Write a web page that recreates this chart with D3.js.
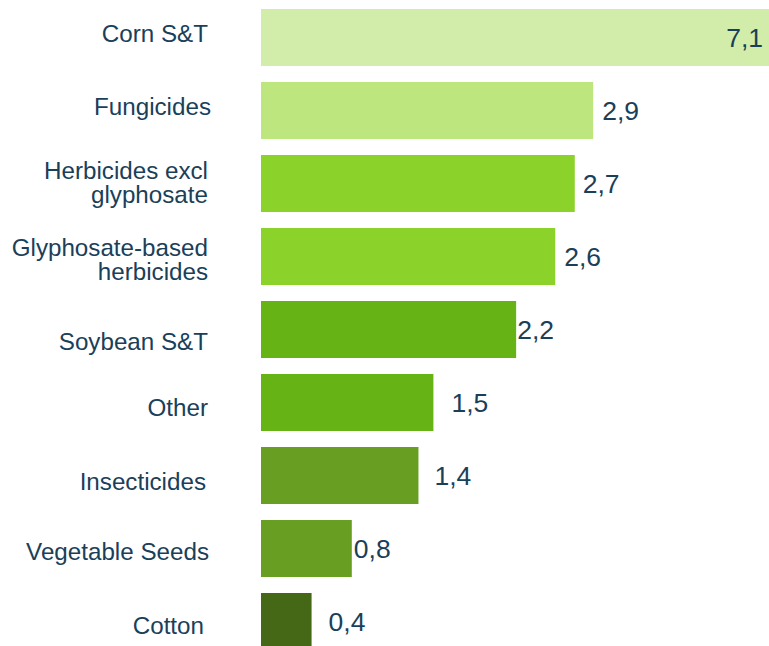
<!DOCTYPE html>
<html>
<head>
<meta charset="utf-8">
<script src="https://cdn.jsdelivr.net/npm/d3@7"></script>
<style>
    body { margin: 0; background: #fff; }
    text { font-family: "Liberation Sans", Arial, sans-serif; fill: #1a4059; }
</style>
</head>
<body>
<svg id="chart" width="769" height="646"></svg>
<script>
// categories, top to bottom (multi-line labels split on "|")
var categories = [
    'Corn S&T',
    'Fungicides',
    'Herbicides excl|glyphosate',
    'Glyphosate-based|herbicides',
    'Soybean S&T',
    'Other',
    'Insecticides',
    'Vegetable Seeds',
    'Cotton'
];
// bar values (labels show them rounded)
var values = [7.1, 2.89, 2.73, 2.56, 2.22, 1.50, 1.37, 0.79, 0.44];
var barColors = ['#d2edaa', '#bde67f', '#8bd32a', '#8bd32a', '#66b316',
    '#66b316', '#689e21', '#689e21', '#456816'];
// small hand nudges of the text, as in the original slide
var catNudge = [-4, -4, -1, 3, 12, 5, 6, 3, 4];
var catShift = [0, 3, 0, 0, 0, 0, -2, 1, -4];
var valNudge = [0, 9, 8, 9, 1, 18, 16, 2, 17];

var width = 769, height = 646;
var svg = d3.select('#chart');

var x = d3.scaleLinear()
    .domain([0, 4.42])
    .range([261, width]);

// step 73px, bar 57px
var y = d3.scaleBand()
    .domain(categories)
    .range([9, 9 + 73 * categories.length - 16])
    .paddingInner(16 / 73)
    .paddingOuter(0);

svg.append('clipPath')
    .attr('id', 'plotClip')
    .append('rect')
    .attr('x', 0)
    .attr('y', 0)
    .attr('width', width)
    .attr('height', height);

var rows = svg.selectAll('g.row')
    .data(categories)
    .enter()
    .append('g')
    .classed('row', true);

rows.append('rect')
    .attr('clip-path', 'url(#plotClip)')
    .attr('x', x(0))
    .attr('y', function (d) { return y(d); })
    .attr('width', function (d, i) { return x(values[i]) - x(0); })
    .attr('height', y.bandwidth())
    .attr('fill', function (d, i) { return barColors[i]; });

// category labels
var catText = rows.append('text')
    .attr('text-anchor', 'end')
    .attr('font-size', 24.2)
    .attr('transform', function (d, i) {
        var lines = d.split('|').length;
        var cy = y(d) + y.bandwidth() / 2 + catNudge[i];
        return 'translate(' + (208 + catShift[i]) + ',' + (cy - (lines - 1) * 12.2) + ')';
    });

catText.selectAll('tspan')
    .data(function (d) { return d.split('|'); })
    .enter()
    .append('tspan')
    .attr('x', 0)
    .attr('dy', function (d, i) { return i === 0 ? '0.35em' : '24.4px'; })
    .text(function (d) { return d; });

// value labels
function fmt(v) {
    return d3.format('.1f')(v).replace('.', ',');
}

rows.append('text')
    .attr('font-size', 26.5)
    .attr('dy', '0.35em')
    .attr('y', function (d) { return y(d) + y.bandwidth() / 2; })
    .attr('x', function (d, i) {
        var end = Math.min(x(values[i]), width);
        return end >= width ? width - 6 : end + valNudge[i];
    })
    .attr('text-anchor', function (d, i) { return x(values[i]) >= width ? 'end' : 'start'; })
    .text(function (d, i) { return fmt(values[i]); });
</script>
</body>
</html>
